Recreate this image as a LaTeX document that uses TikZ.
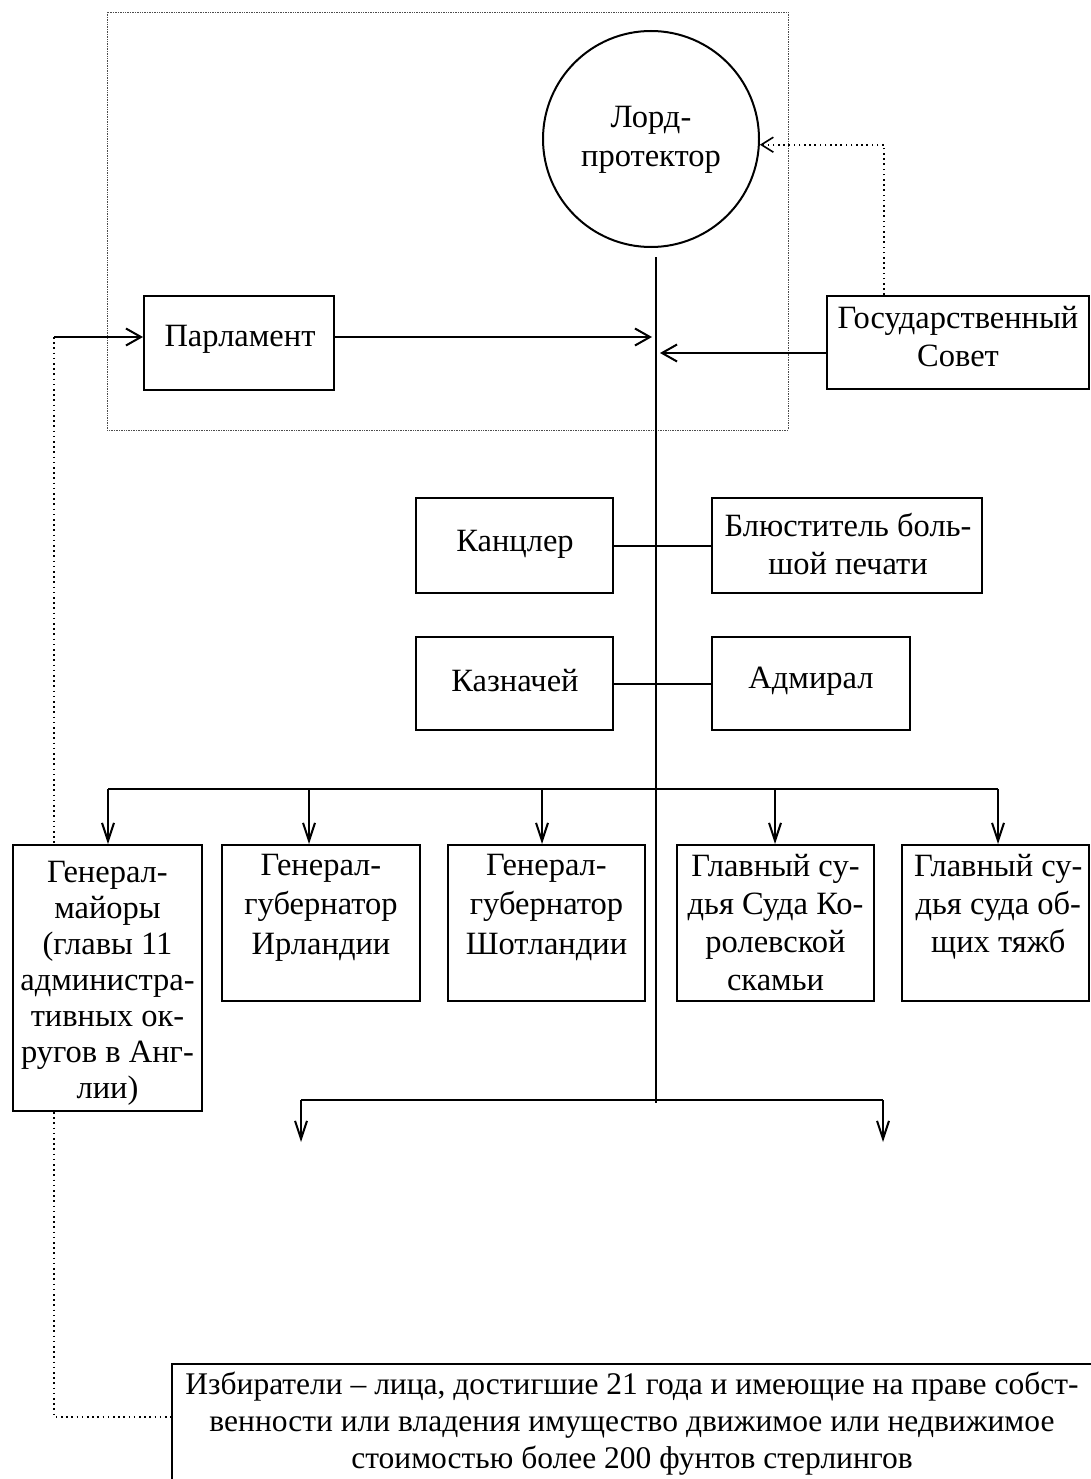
\documentclass[tikz,border=0pt]{standalone}
\usepackage{fontspec}
\setmainfont{Liberation Serif}
\usetikzlibrary{arrows.meta}
\begin{document}
\begin{tikzpicture}[x=1pt,y=-1pt,
  box/.style={draw, line width=2pt, rectangle, inner sep=0pt},
  txt/.style={align=center, inner sep=0pt, font=\fontsize{32.5}{38}\selectfont},
  conn/.style={line width=2pt},
  arr/.style={line width=2pt, -{Straight Barb[length=15pt,width=17pt,line width=2pt]}},
  darr/.style={line width=2pt, -{Straight Barb[length=18pt,width=12pt,line width=2pt]}},
  dots/.style={line width=1.6pt, dash pattern=on 1.6pt off 3.6pt},
  framestyle/.style={line width=0.8pt, black!70, dash pattern=on 0.8pt off 0.9pt}]
\useasboundingbox (0,0) rectangle (1090,1479);

% dotted frame
\draw[framestyle] (107,12) rectangle (788,430);

% Lord-protector
\node[draw, circle, line width=2pt, minimum size=216pt, inner sep=0pt] (lord) at (651,139) {};
\node[txt, font=\fontsize{32.5}{39}\selectfont] (lord-t) at (651,140) {Лорд-\\протектор};

% Parliament and State Council
\node[box, minimum width=190pt, minimum height=94pt] (parl) at (239,343) {};
\node[txt] (parl-t) at (240,339) {Парламент};
\node[box, minimum width=262pt, minimum height=93pt] (gos) at (958,342.5) {};
\node[txt, anchor=north] (gos-t) at (958,306) {Государственный\\Совет};

% officials
\node[box, minimum width=197pt, minimum height=95pt] (kanc) at (514.5,545.5) {};
\node[txt] (kanc-t) at (515,544) {Канцлер};
\node[box, minimum width=270pt, minimum height=95pt] (blyu) at (847,545.5) {};
\node[txt] (blyu-t) at (848,544) {Блюститель боль-\\шой печати};
\node[box, minimum width=197pt, minimum height=93pt] (kazn) at (514.5,683.5) {};
\node[txt] (kazn-t) at (515,681) {Казначей};
\node[box, minimum width=198pt, minimum height=93pt] (adm) at (811,683.5) {};
\node[txt] (adm-t) at (811,681) {Адмирал};

% lower boxes
\node[box, minimum width=189pt, minimum height=266pt] (gm) at (107.5,978) {};
\node[txt, anchor=north, font=\fontsize{32.5}{36}\selectfont] (gm-t) at ([yshift=-17pt]gm.north) {Генерал-\\майоры\\(главы 11\\администра-\\тивных ок-\\ругов в Анг-\\лии)};
\node[box, minimum width=198pt, minimum height=156pt] (irl) at (321,923) {};
\node[txt, anchor=north, font=\fontsize{32.5}{39.5}\selectfont] (irl-t) at ([yshift=-10pt]irl.north) {Генерал-\\губернатор\\Ирландии};
\node[box, minimum width=197pt, minimum height=156pt] (sho) at (546.5,923) {};
\node[txt, anchor=north, font=\fontsize{32.5}{39.5}\selectfont] (sho-t) at ([yshift=-10pt]sho.north) {Генерал-\\губернатор\\Шотландии};
\node[box, minimum width=197pt, minimum height=156pt] (kor) at (775.5,923) {};
\node[txt, anchor=north] (kor-t) at ([yshift=-10pt]kor.north) {Главный су-\\дья Суда Ко-\\ролевской\\скамьи};
\node[box, minimum width=187pt, minimum height=156pt] (obs) at (995.5,923) {};
\node[txt, anchor=north west] (obs-t) at ([xshift=13pt,yshift=-10pt]obs.north west) {Главный су-\\дья суда об-\\щих тяжб};

% electors
\node[box, minimum width=922pt, minimum height=150pt, anchor=north west] (izb) at (171,1363) {};
\node[txt, anchor=north, font=\fontsize{31.5}{37}\selectfont] (izb-t) at (632,1372) {Избиратели – лица, достигшие 21 года и имеющие на праве собст-\\венности или владения имущество движимое или недвижимое\\стоимостью более 200 фунтов стерлингов};

% main vertical line
\coordinate (vtop) at (656,257);
\coordinate (vbot) at (656,1103);
\draw[conn] (vtop) -- (vbot);

% arrows into the vertical line
\coordinate (pin) at (652,337);
\draw[arr] (parl.east |- pin) -- (pin);
\coordinate (gin) at (660,353);
\draw[arr] (gos.west |- gin) -- (gin);

% input arrow to Parliament and dotted links
\coordinate (din) at (54,337);
\draw[arr] (din) -- (parl.west |- din);
\draw[dots] (din) -- (din |- gm.north);
\coordinate (dizb) at (171,1417);
\draw[dots] (din |- gm.south) |- (dizb);
\draw[dots, -{Straight Barb[length=12pt,width=15pt,line width=1.6pt]}] ([xshift=-74pt]gos.north) |- (lord.-3);

% officials' connectors
\draw[conn] (kanc.east) -- (blyu.west);
\draw[conn] (kazn.east) -- (adm.west);

% distribution bar
\coordinate (barL) at (108,789);
\coordinate (barR) at (998,789);
\draw[conn] (barL) -- (barR);
\draw[darr] (barL) -- (108,0 |- gm.north);
\draw[darr] (309,789) -- (309,0 |- irl.north);
\draw[darr] (542,789) -- (542,0 |- sho.north);
\draw[darr] (775,789) -- (775,0 |- kor.north);
\draw[darr] (barR) -- (998,0 |- obs.north);

% lower bar
\coordinate (lbL) at (301,1100);
\coordinate (lbR) at (883,1100);
\coordinate (lbLe) at (301,1142);
\coordinate (lbRe) at (883,1142);
\draw[conn] (lbL) -- (lbR);
\draw[darr] (lbL) -- (lbLe);
\draw[darr] (lbR) -- (lbRe);
\end{tikzpicture}
\end{document}
